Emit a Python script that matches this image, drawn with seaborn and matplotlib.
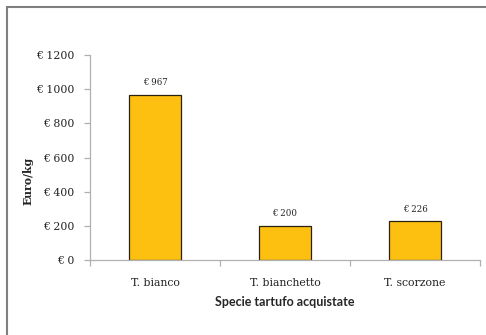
import matplotlib
matplotlib.use("Agg")
import matplotlib.pyplot as plt
import seaborn as sns
import pandas as pd
from matplotlib.patches import Rectangle

# Prezzo medio per specie di tartufo acquistata
species = ["T. bianco", "T. bianchetto", "T. scorzone"]
price_per_kg = [967, 200, 226]
y_ticks = [0, 200, 400, 600, 800, 1000, 1200]

df = pd.DataFrame({"specie": species, "prezzo": price_per_kg})

sns.set_theme(style="white")
plt.rcParams["font.family"] = ["DejaVu Serif"]

W, H = 486, 335
fig = plt.figure(figsize=(W / 100, H / 100), dpi=100)

# cornice esterna del grafico
fig.patches.append(Rectangle((6.5 / W, -0.05), 1.2, (H - 6.5) / H + 0.05,
                             transform=fig.transFigure, fill=False,
                             edgecolor="#7f7f7f", linewidth=1.5, zorder=0))

ax = fig.add_axes([90 / W, 75 / H, 390 / W, 205 / H])

sns.barplot(data=df, x="specie", y="prezzo", ax=ax, color="#FDC010",
            saturation=1, width=0.4, edgecolor="#2a2010", linewidth=0.9)

ax.set_ylim(0, 1200)
ax.set_xlim(-0.5, 2.5)
ax.set_yticks(y_ticks)
ax.set_yticklabels([f"€ {v}" for v in y_ticks], fontsize=7.8, color="#222222")

for i, v in enumerate(price_per_kg):
    ax.text(i, v + 45, f"€ {v}", ha="center", va="bottom", fontsize=6.2,
            color="#222222")

for s in ["top", "right"]:
    ax.spines[s].set_visible(False)
for s in ["left", "bottom"]:
    ax.spines[s].set_color("#b0b0b0")
    ax.spines[s].set_linewidth(0.9)

ax.set_xticks([-0.5, 0.5, 1.5, 2.5], minor=True)
ax.tick_params(axis="x", which="minor", length=4, color="#b0b0b0", width=0.9,
               direction="out", bottom=True)
ax.tick_params(axis="x", which="major", length=0, labelsize=7.8,
               labelcolor="#222222", pad=13)
ax.tick_params(axis="y", which="major", length=4, color="#b0b0b0", width=0.9,
               direction="out", left=True, pad=7)

ax.set_ylabel("Euro/kg", fontsize=7.8, fontweight="bold")
ax.yaxis.set_label_coords(-0.146, 0.385)
ax.set_xlabel("Specie tartufo acquistate", fontsize=9, fontweight="bold",
              family=["Lato", "DejaVu Sans"], labelpad=6)

fig.savefig("out.png", dpi=100)
